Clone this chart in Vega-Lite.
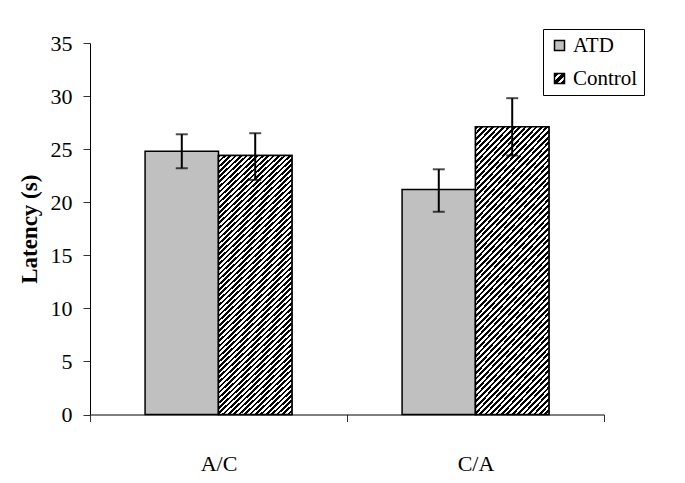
{
  "$schema": "https://vega.github.io/schema/vega-lite/v6.json",
  "width": 514,
  "height": 371.5,
  "autosize": {"type": "none"},
  "padding": {"left": 90, "top": 43, "right": 81, "bottom": 68.5},
  "background": "white",
  "config": {
    "view": {"stroke": null},
    "font": "Liberation Serif",
    "axis": {
      "domainColor": "black",
      "domainWidth": 1,
      "tickColor": "#333",
      "tickWidth": 1,
      "tickSize": 7,
      "grid": false,
      "labelFont": "Liberation Serif",
      "labelFontSize": 22,
      "labelColor": "black",
      "titleFont": "Liberation Serif",
      "titleFontSize": 23,
      "titleColor": "black",
      "titleFontWeight": "bold"
    },
    "axisY": {"labelPadding": 11, "titlePadding": 9},
    "axisX": {"labelAngle": 0, "labelPadding": 32, "tickBand": "extent"}
  },
  "data": {
    "values": [
      {"phase": "A/C", "group": "ATD", "mean": 24.8, "lo": 23.2, "hi": 26.4},
      {"phase": "A/C", "group": "Control", "mean": 24.4, "lo": 22.1, "hi": 26.5},
      {"phase": "C/A", "group": "ATD", "mean": 21.2, "lo": 19.1, "hi": 23.1},
      {"phase": "C/A", "group": "Control", "mean": 27.1, "lo": 24.4, "hi": 29.8}
    ]
  },
  "encoding": {
    "x": {"field": "phase", "type": "nominal", "title": null, "scale": {"paddingInner": 0, "paddingOuter": 0}},
    "xOffset": {"field": "group", "type": "nominal", "scale": {"paddingInner": 0, "paddingOuter": 0.75}}
  },
  "layer": [
    {
      "transform": [{"filter": "datum.group === 'Control'"}],
      "mark": {
        "type": "bar",
        "fill": {"gradient": "linear", "x1": 0, "y1": 0, "x2": 1, "y2": 1, "stops": [
          {"offset": 0, "color": "#000"}, {"offset": 0.24, "color": "#000"}, {"offset": 0.24, "color": "#fff"}, {"offset": 0.36, "color": "#fff"},
          {"offset": 0.36, "color": "#000"}, {"offset": 0.64, "color": "#000"}, {"offset": 0.64, "color": "#fff"}, {"offset": 0.76, "color": "#fff"},
          {"offset": 0.76, "color": "#000"}, {"offset": 1, "color": "#000"}
        ]}
      },
      "encoding": {
        "y": {"field": "mean", "type": "quantitative", "title": "Latency (s)"}
      }
    },
    {
      "mark": {"type": "bar", "stroke": "black", "strokeWidth": 1.5},
      "encoding": {
        "y": {"field": "mean", "type": "quantitative", "title": "Latency (s)", "scale": {"domain": [0, 35], "nice": false}, "axis": {"values": [0, 5, 10, 15, 20, 25, 30, 35]}},
        "fill": {
          "field": "group", "type": "nominal",
          "scale": {"range": ["#c0c0c0", "url(#gradient_0)"]},
          "legend": {
            "title": null,
            "orient": "none",
            "legendX": 453,
            "legendY": -14,
            "padding": 6,
            "strokeColor": "black",
            "fillColor": "white",
            "symbolType": "square",
            "symbolSize": 100,
            "symbolStrokeColor": "black",
            "symbolStrokeWidth": 1.5,
            "labelFont": "Liberation Serif",
            "labelFontSize": 21,
            "labelColor": "black",
            "rowPadding": 11,
            "labelOffset": 3,
            "encode": {
              "symbols": {
                "update": {
                  "stroke": {"value": "black"},
                  "strokeWidth": {"value": 1.5}
                }
              }
            }
          }
        }
      }
    },
    {
      "transform": [{"filter": "datum.group === 'Control'"}],
      "mark": {
        "type": "bar", "stroke": "black", "strokeWidth": 1.5,
        "fill": {"gradient": "linear", "x1": 0, "y1": 0, "x2": 0.3174, "y2": 1.1831, "stops": [
{"offset":0,"color":"#000"},{"offset":0.0078125,"color":"#000"},{"offset":0.0078125,"color":"#fff"},{"offset":0.015625,"color":"#fff"},
{"offset":0.015625,"color":"#000"},{"offset":0.0234375,"color":"#000"},{"offset":0.0234375,"color":"#fff"},{"offset":0.03125,"color":"#fff"},
{"offset":0.03125,"color":"#000"},{"offset":0.0390625,"color":"#000"},{"offset":0.0390625,"color":"#fff"},{"offset":0.046875,"color":"#fff"},
{"offset":0.046875,"color":"#000"},{"offset":0.0546875,"color":"#000"},{"offset":0.0546875,"color":"#fff"},{"offset":0.0625,"color":"#fff"},
{"offset":0.0625,"color":"#000"},{"offset":0.0703125,"color":"#000"},{"offset":0.0703125,"color":"#fff"},{"offset":0.078125,"color":"#fff"},
{"offset":0.078125,"color":"#000"},{"offset":0.0859375,"color":"#000"},{"offset":0.0859375,"color":"#fff"},{"offset":0.09375,"color":"#fff"},
{"offset":0.09375,"color":"#000"},{"offset":0.1015625,"color":"#000"},{"offset":0.1015625,"color":"#fff"},{"offset":0.109375,"color":"#fff"},
{"offset":0.109375,"color":"#000"},{"offset":0.1171875,"color":"#000"},{"offset":0.1171875,"color":"#fff"},{"offset":0.125,"color":"#fff"},
{"offset":0.125,"color":"#000"},{"offset":0.1328125,"color":"#000"},{"offset":0.1328125,"color":"#fff"},{"offset":0.140625,"color":"#fff"},
{"offset":0.140625,"color":"#000"},{"offset":0.1484375,"color":"#000"},{"offset":0.1484375,"color":"#fff"},{"offset":0.15625,"color":"#fff"},
{"offset":0.15625,"color":"#000"},{"offset":0.1640625,"color":"#000"},{"offset":0.1640625,"color":"#fff"},{"offset":0.171875,"color":"#fff"},
{"offset":0.171875,"color":"#000"},{"offset":0.1796875,"color":"#000"},{"offset":0.1796875,"color":"#fff"},{"offset":0.1875,"color":"#fff"},
{"offset":0.1875,"color":"#000"},{"offset":0.1953125,"color":"#000"},{"offset":0.1953125,"color":"#fff"},{"offset":0.203125,"color":"#fff"},
{"offset":0.203125,"color":"#000"},{"offset":0.2109375,"color":"#000"},{"offset":0.2109375,"color":"#fff"},{"offset":0.21875,"color":"#fff"},
{"offset":0.21875,"color":"#000"},{"offset":0.2265625,"color":"#000"},{"offset":0.2265625,"color":"#fff"},{"offset":0.234375,"color":"#fff"},
{"offset":0.234375,"color":"#000"},{"offset":0.2421875,"color":"#000"},{"offset":0.2421875,"color":"#fff"},{"offset":0.25,"color":"#fff"},
{"offset":0.25,"color":"#000"},{"offset":0.2578125,"color":"#000"},{"offset":0.2578125,"color":"#fff"},{"offset":0.265625,"color":"#fff"},
{"offset":0.265625,"color":"#000"},{"offset":0.2734375,"color":"#000"},{"offset":0.2734375,"color":"#fff"},{"offset":0.28125,"color":"#fff"},
{"offset":0.28125,"color":"#000"},{"offset":0.2890625,"color":"#000"},{"offset":0.2890625,"color":"#fff"},{"offset":0.296875,"color":"#fff"},
{"offset":0.296875,"color":"#000"},{"offset":0.3046875,"color":"#000"},{"offset":0.3046875,"color":"#fff"},{"offset":0.3125,"color":"#fff"},
{"offset":0.3125,"color":"#000"},{"offset":0.3203125,"color":"#000"},{"offset":0.3203125,"color":"#fff"},{"offset":0.328125,"color":"#fff"},
{"offset":0.328125,"color":"#000"},{"offset":0.3359375,"color":"#000"},{"offset":0.3359375,"color":"#fff"},{"offset":0.34375,"color":"#fff"},
{"offset":0.34375,"color":"#000"},{"offset":0.3515625,"color":"#000"},{"offset":0.3515625,"color":"#fff"},{"offset":0.359375,"color":"#fff"},
{"offset":0.359375,"color":"#000"},{"offset":0.3671875,"color":"#000"},{"offset":0.3671875,"color":"#fff"},{"offset":0.375,"color":"#fff"},
{"offset":0.375,"color":"#000"},{"offset":0.3828125,"color":"#000"},{"offset":0.3828125,"color":"#fff"},{"offset":0.390625,"color":"#fff"},
{"offset":0.390625,"color":"#000"},{"offset":0.3984375,"color":"#000"},{"offset":0.3984375,"color":"#fff"},{"offset":0.40625,"color":"#fff"},
{"offset":0.40625,"color":"#000"},{"offset":0.4140625,"color":"#000"},{"offset":0.4140625,"color":"#fff"},{"offset":0.421875,"color":"#fff"},
{"offset":0.421875,"color":"#000"},{"offset":0.4296875,"color":"#000"},{"offset":0.4296875,"color":"#fff"},{"offset":0.4375,"color":"#fff"},
{"offset":0.4375,"color":"#000"},{"offset":0.4453125,"color":"#000"},{"offset":0.4453125,"color":"#fff"},{"offset":0.453125,"color":"#fff"},
{"offset":0.453125,"color":"#000"},{"offset":0.4609375,"color":"#000"},{"offset":0.4609375,"color":"#fff"},{"offset":0.46875,"color":"#fff"},
{"offset":0.46875,"color":"#000"},{"offset":0.4765625,"color":"#000"},{"offset":0.4765625,"color":"#fff"},{"offset":0.484375,"color":"#fff"},
{"offset":0.484375,"color":"#000"},{"offset":0.4921875,"color":"#000"},{"offset":0.4921875,"color":"#fff"},{"offset":0.5,"color":"#fff"},
{"offset":0.5,"color":"#000"},{"offset":0.5078125,"color":"#000"},{"offset":0.5078125,"color":"#fff"},{"offset":0.515625,"color":"#fff"},
{"offset":0.515625,"color":"#000"},{"offset":0.5234375,"color":"#000"},{"offset":0.5234375,"color":"#fff"},{"offset":0.53125,"color":"#fff"},
{"offset":0.53125,"color":"#000"},{"offset":0.5390625,"color":"#000"},{"offset":0.5390625,"color":"#fff"},{"offset":0.546875,"color":"#fff"},
{"offset":0.546875,"color":"#000"},{"offset":0.5546875,"color":"#000"},{"offset":0.5546875,"color":"#fff"},{"offset":0.5625,"color":"#fff"},
{"offset":0.5625,"color":"#000"},{"offset":0.5703125,"color":"#000"},{"offset":0.5703125,"color":"#fff"},{"offset":0.578125,"color":"#fff"},
{"offset":0.578125,"color":"#000"},{"offset":0.5859375,"color":"#000"},{"offset":0.5859375,"color":"#fff"},{"offset":0.59375,"color":"#fff"},
{"offset":0.59375,"color":"#000"},{"offset":0.6015625,"color":"#000"},{"offset":0.6015625,"color":"#fff"},{"offset":0.609375,"color":"#fff"},
{"offset":0.609375,"color":"#000"},{"offset":0.6171875,"color":"#000"},{"offset":0.6171875,"color":"#fff"},{"offset":0.625,"color":"#fff"},
{"offset":0.625,"color":"#000"},{"offset":0.6328125,"color":"#000"},{"offset":0.6328125,"color":"#fff"},{"offset":0.640625,"color":"#fff"},
{"offset":0.640625,"color":"#000"},{"offset":0.6484375,"color":"#000"},{"offset":0.6484375,"color":"#fff"},{"offset":0.65625,"color":"#fff"},
{"offset":0.65625,"color":"#000"},{"offset":0.6640625,"color":"#000"},{"offset":0.6640625,"color":"#fff"},{"offset":0.671875,"color":"#fff"},
{"offset":0.671875,"color":"#000"},{"offset":0.6796875,"color":"#000"},{"offset":0.6796875,"color":"#fff"},{"offset":0.6875,"color":"#fff"},
{"offset":0.6875,"color":"#000"},{"offset":0.6953125,"color":"#000"},{"offset":0.6953125,"color":"#fff"},{"offset":0.703125,"color":"#fff"},
{"offset":0.703125,"color":"#000"},{"offset":0.7109375,"color":"#000"},{"offset":0.7109375,"color":"#fff"},{"offset":0.71875,"color":"#fff"},
{"offset":0.71875,"color":"#000"},{"offset":0.7265625,"color":"#000"},{"offset":0.7265625,"color":"#fff"},{"offset":0.734375,"color":"#fff"},
{"offset":0.734375,"color":"#000"},{"offset":0.7421875,"color":"#000"},{"offset":0.7421875,"color":"#fff"},{"offset":0.75,"color":"#fff"},
{"offset":0.75,"color":"#000"},{"offset":0.7578125,"color":"#000"},{"offset":0.7578125,"color":"#fff"},{"offset":0.765625,"color":"#fff"},
{"offset":0.765625,"color":"#000"},{"offset":0.7734375,"color":"#000"},{"offset":0.7734375,"color":"#fff"},{"offset":0.78125,"color":"#fff"},
{"offset":0.78125,"color":"#000"},{"offset":0.7890625,"color":"#000"},{"offset":0.7890625,"color":"#fff"},{"offset":0.796875,"color":"#fff"},
{"offset":0.796875,"color":"#000"},{"offset":0.8046875,"color":"#000"},{"offset":0.8046875,"color":"#fff"},{"offset":0.8125,"color":"#fff"},
{"offset":0.8125,"color":"#000"},{"offset":0.8203125,"color":"#000"},{"offset":0.8203125,"color":"#fff"},{"offset":0.828125,"color":"#fff"},
{"offset":0.828125,"color":"#000"},{"offset":0.8359375,"color":"#000"},{"offset":0.8359375,"color":"#fff"},{"offset":0.84375,"color":"#fff"},
{"offset":0.84375,"color":"#000"},{"offset":0.8515625,"color":"#000"},{"offset":0.8515625,"color":"#fff"},{"offset":0.859375,"color":"#fff"},
{"offset":0.859375,"color":"#000"},{"offset":0.8671875,"color":"#000"},{"offset":0.8671875,"color":"#fff"},{"offset":0.875,"color":"#fff"},
{"offset":0.875,"color":"#000"},{"offset":0.8828125,"color":"#000"},{"offset":0.8828125,"color":"#fff"},{"offset":0.890625,"color":"#fff"},
{"offset":0.890625,"color":"#000"},{"offset":0.8984375,"color":"#000"},{"offset":0.8984375,"color":"#fff"},{"offset":0.90625,"color":"#fff"},
{"offset":0.90625,"color":"#000"},{"offset":0.9140625,"color":"#000"},{"offset":0.9140625,"color":"#fff"},{"offset":0.921875,"color":"#fff"},
{"offset":0.921875,"color":"#000"},{"offset":0.9296875,"color":"#000"},{"offset":0.9296875,"color":"#fff"},{"offset":0.9375,"color":"#fff"},
{"offset":0.9375,"color":"#000"},{"offset":0.9453125,"color":"#000"},{"offset":0.9453125,"color":"#fff"},{"offset":0.953125,"color":"#fff"},
{"offset":0.953125,"color":"#000"},{"offset":0.9609375,"color":"#000"},{"offset":0.9609375,"color":"#fff"},{"offset":0.96875,"color":"#fff"},
{"offset":0.96875,"color":"#000"},{"offset":0.9765625,"color":"#000"},{"offset":0.9765625,"color":"#fff"},{"offset":0.984375,"color":"#fff"},
{"offset":0.984375,"color":"#000"},{"offset":0.9921875,"color":"#000"},{"offset":0.9921875,"color":"#fff"},{"offset":1,"color":"#fff"}
        ]}
      },
      "encoding": {
        "y": {"field": "mean", "type": "quantitative", "title": "Latency (s)"}
      }
    },
    {
      "mark": {"type": "rule", "color": "black", "strokeWidth": 2},
      "encoding": {
        "y": {"field": "lo", "type": "quantitative", "title": "Latency (s)"},
        "y2": {"field": "hi"}
      }
    },
    {
      "mark": {"type": "tick", "color": "black", "thickness": 2, "size": 12, "orient": "horizontal"},
      "encoding": {
        "y": {"field": "hi", "type": "quantitative", "title": "Latency (s)"}
      }
    },
    {
      "mark": {"type": "tick", "color": "black", "thickness": 2, "size": 12, "orient": "horizontal"},
      "encoding": {
        "y": {"field": "lo", "type": "quantitative", "title": "Latency (s)"}
      }
    }
  ]
}
